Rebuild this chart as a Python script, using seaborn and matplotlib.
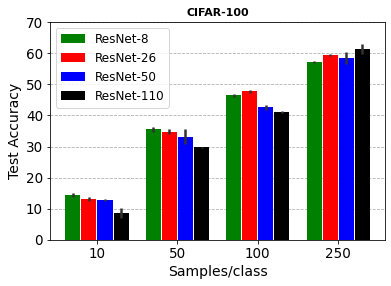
import matplotlib
matplotlib.use("Agg")
import matplotlib.pyplot as plt
import seaborn as sns
import pandas as pd
import numpy as np

samples = ["10", "50", "100", "250"]
models = ["ResNet-8", "ResNet-26", "ResNet-50", "ResNet-110"]
resnet8 = [14.5, 35.5, 46.4, 57.1]
resnet26 = [13.2, 34.8, 47.7, 59.4]
resnet50 = [12.9, 33.2, 42.6, 58.4]
resnet110 = [8.7, 29.7, 41.0, 61.3]
err8 = [0.6, 0.8, 0.5, 0.3]
err26 = [0.6, 0.9, 0.5, 0.3]
err50 = [0.3, 2.4, 0.8, 1.9]
err110 = [1.7, 0.3, 0.3, 1.6]
colors = ["green", "red", "blue", "black"]

vals = [resnet8, resnet26, resnet50, resnet110]
errs = [err8, err26, err50, err110]
rows = []
for m, v, e in zip(models, vals, errs):
    for s, vv, ee in zip(samples, v, e):
        rows.append({"Samples/class": s, "model": m, "acc": vv, "err": ee})
df = pd.DataFrame(rows)

plt.rcParams['font.family'] = ['DejaVu Sans']
DPI = 72
fig = plt.figure(figsize=(391 / DPI, 286 / DPI), dpi=DPI)
ax = fig.add_axes([0.128, 0.161, 0.857, 0.762])
sns.barplot(data=df, x="Samples/class", y="acc", hue="model", order=samples,
            hue_order=models, palette=colors, errorbar=None, width=0.8,
            gap=0.06, saturation=1, ax=ax, zorder=3)
for cont, m in zip(ax.containers, models):
    sub = df[df.model == m].set_index("Samples/class").loc[samples]
    xs = [p.get_x() + p.get_width() / 2 for p in cont.patches]
    ax.errorbar(xs, sub["acc"].values, yerr=sub["err"].values, fmt="none",
                ecolor="#333333", elinewidth=2.5, capsize=0, zorder=4)

ax.set_ylim(0, 70)
ax.set_yticks(range(0, 71, 10))
ax.yaxis.grid(True, linestyle="--", color="#b0b0b0", linewidth=0.8, zorder=0)
ax.set_axisbelow(True)
ax.set_xlabel("Samples/class", fontsize=14)
ax.set_ylabel("Test Accuracy", fontsize=14)
ax.set_title("CIFAR-100", fontsize=11, fontweight="bold")
ax.tick_params(labelsize=13.5)
ax.legend(loc="upper left", fontsize=12)
fig.savefig("out.png", dpi=DPI)
